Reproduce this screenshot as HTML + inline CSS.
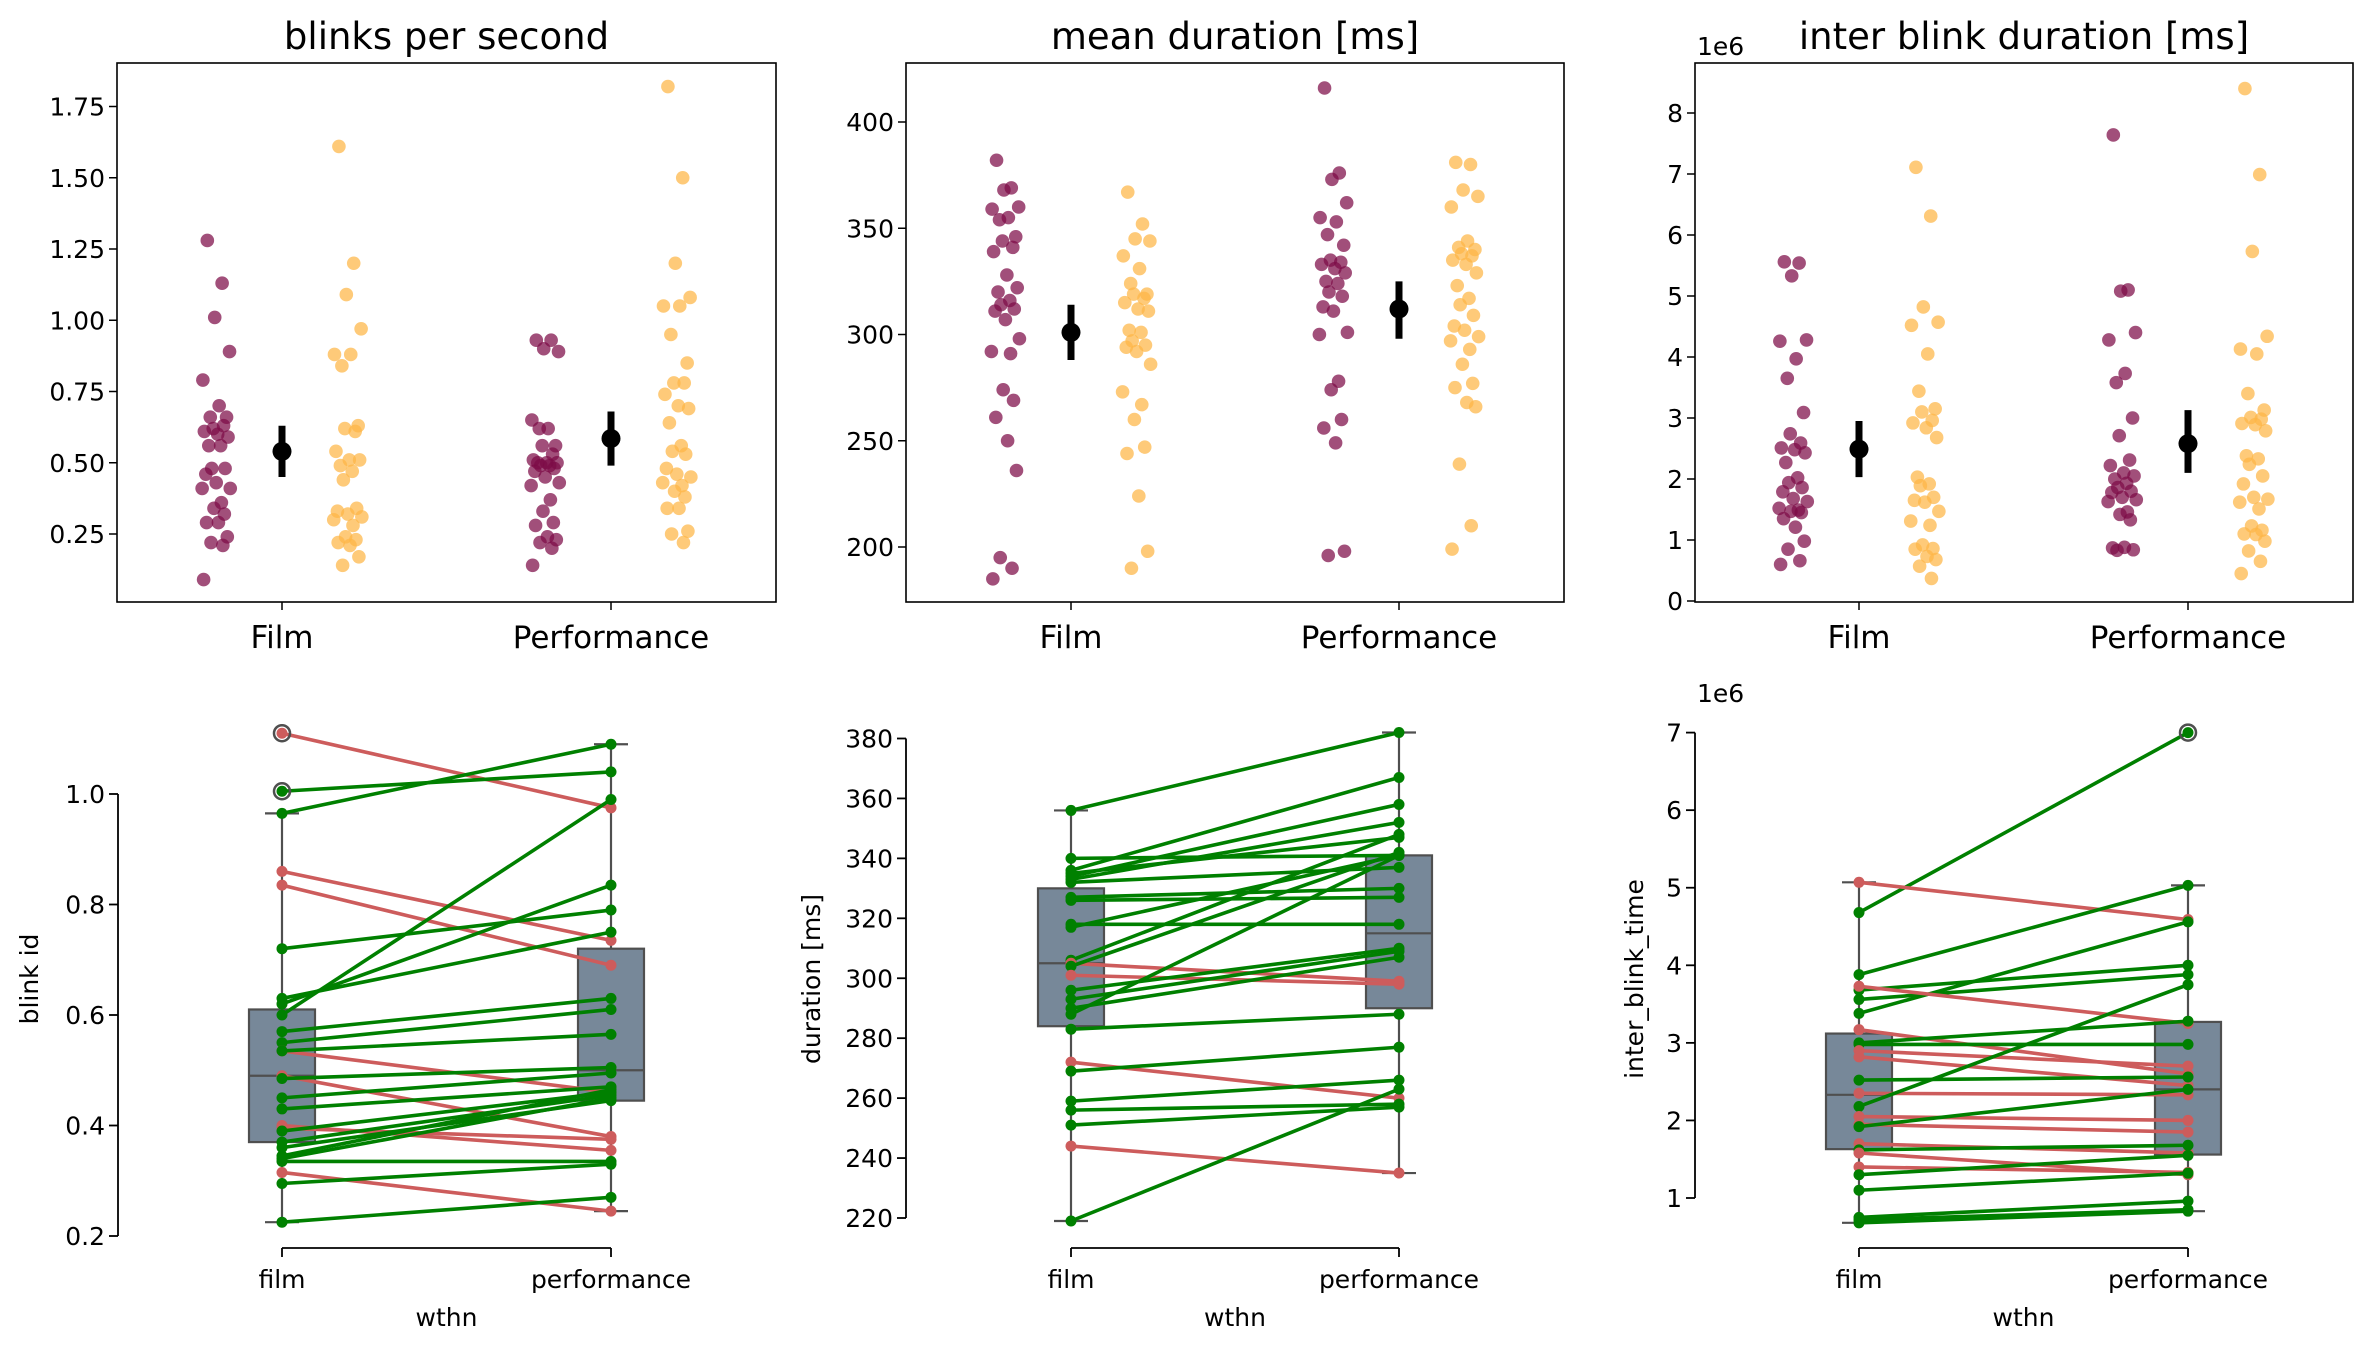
<!DOCTYPE html>
<html><head><meta charset="utf-8">
<style>
html,body{margin:0;padding:0;background:#fff;}
svg{display:block;font-family:"DejaVu Sans","Liberation Sans",sans-serif;}
</style></head>
<body>
<svg id="fig" width="2371" height="1350" viewBox="0 0 2371 1350" xmlns="http://www.w3.org/2000/svg"></svg>
<script>
// ---------- DATA ----------
const categoriesTop = ["Film","Performance"];
const categoriesBottom = ["film","performance"];

// Panel 1: blinks per second
const bpsFilmDark = [1.28,1.13,1.01,0.89,0.79,0.70,0.66,0.66,0.62,0.63,0.61,0.60,0.59,0.56,0.56,0.48,0.48,0.46,0.43,0.41,0.41,0.36,0.34,0.32,0.29,0.29,0.24,0.22,0.21,0.09];
const bpsFilmLight = [1.61,1.20,1.09,0.97,0.88,0.88,0.84,0.63,0.62,0.61,0.54,0.51,0.51,0.49,0.47,0.44,0.34,0.33,0.32,0.31,0.30,0.28,0.24,0.23,0.22,0.21,0.17,0.14];
const bpsPerfDark = [0.93,0.93,0.90,0.89,0.65,0.62,0.62,0.56,0.56,0.53,0.51,0.50,0.50,0.50,0.49,0.49,0.48,0.47,0.45,0.43,0.42,0.37,0.33,0.29,0.28,0.24,0.23,0.22,0.20,0.14];
const bpsPerfLight = [1.82,1.50,1.20,1.08,1.05,1.05,0.95,0.85,0.78,0.78,0.74,0.70,0.69,0.64,0.56,0.54,0.53,0.48,0.46,0.45,0.43,0.42,0.40,0.38,0.34,0.34,0.26,0.25,0.22];
const bpsMean = [0.54,0.585];
const bpsLo = [0.45,0.49];
const bpsHi = [0.63,0.68];
const bpsTicks = [0.25,0.50,0.75,1.00,1.25,1.50,1.75];

// Panel 2: mean duration
const durFilmDark = [382,369,368,360,359,355,354,346,344,341,339,328,322,320,316,314,312,311,307,298,292,291,274,269,261,250,236,195,190,185];
const durFilmLight = [367,352,345,344,337,331,324,319,319,317,315,312,311,302,301,297,295,294,292,286,273,267,260,247,244,224,198,190];
const durPerfDark = [416,376,373,362,355,353,347,342,335,334,333,331,329,325,324,320,318,313,311,301,300,278,274,260,256,249,198,196];
const durPerfLight = [381,380,368,365,360,344,341,340,338,337,335,333,329,323,317,314,309,304,302,299,297,293,286,277,275,268,266,239,210,199];
const durMean = [301,312];
const durLo = [288,298];
const durHi = [314,325];
const durTicks = [200,250,300,350,400];

// Panel 3: inter blink duration (x1e6)
const ibdFilmDark = [5.56,5.54,5.33,4.28,4.26,3.97,3.65,3.09,2.74,2.59,2.51,2.48,2.43,2.27,2.02,1.94,1.86,1.79,1.68,1.63,1.52,1.49,1.47,1.45,1.35,1.21,0.98,0.85,0.66,0.60];
const ibdFilmLight = [7.11,6.31,4.82,4.57,4.52,4.05,3.44,3.15,3.10,2.96,2.92,2.84,2.68,2.03,1.92,1.89,1.70,1.65,1.62,1.47,1.31,1.24,0.92,0.86,0.85,0.73,0.68,0.57,0.37];
const ibdPerfDark = [7.64,5.10,5.08,4.40,4.28,3.73,3.58,3.00,2.71,2.31,2.22,2.10,2.05,2.00,1.93,1.86,1.80,1.78,1.70,1.66,1.63,1.46,1.42,1.33,0.87,0.88,0.84,0.83];
const ibdPerfLight = [8.40,6.99,5.73,4.34,4.13,4.05,3.40,3.13,3.01,2.98,2.91,2.89,2.79,2.38,2.33,2.24,2.05,1.92,1.70,1.67,1.62,1.51,1.23,1.16,1.10,1.09,0.98,0.82,0.65,0.45];
const ibdMean = [2.49,2.58];
const ibdLo = [2.03,2.10];
const ibdHi = [2.95,3.13];
const ibdTicks = [0,1,2,3,4,5,6,7,8];

// jitter in category units (fraction of jitter width)
const jitter = [-0.6,0.4,-0.1,0.9,-0.9,0.2,-0.4,0.7,-0.2,0.5,-0.8,0.1,0.8,-0.5,0.3,-0.3,0.6,-0.7,0.0,0.95,-0.95,0.35,-0.15,0.55,-0.65,0.15,0.75,-0.35,0.45,-0.85];

// Bottom 1: blink id paired
const bidFilm = [1.11,1.005,0.965,0.86,0.835,0.72,0.63,0.62,0.60,0.57,0.55,0.535,0.535,0.49,0.485,0.45,0.43,0.40,0.395,0.39,0.37,0.36,0.345,0.34,0.335,0.315,0.295,0.225];
const bidPerf = [0.975,1.04,1.09,0.735,0.69,0.79,0.75,0.835,0.99,0.63,0.61,0.46,0.565,0.38,0.505,0.495,0.47,0.355,0.375,0.46,0.455,0.445,0.465,0.45,0.335,0.245,0.33,0.27];
const bidBox = [[0.225,0.37,0.49,0.61,0.965],[0.245,0.445,0.50,0.72,1.09]];
const bidOut = [[1.005,1.11],[]];
const bidTicks = [0.2,0.4,0.6,0.8,1.0];

// Bottom 2: duration paired
const pdFilm = [356,340,336,335,334,333,332,327,326,318,317,306,305,304,301,296,293,290,288,283,272,269,259,256,251,244,219];
const pdPerf = [382,341,367,347,358,352,337,330,327,318,341,348,299,342,298,310,309,307,341,288,260,277,266,258,257,235,263];
const pdBox = [[219,284,305,330,356],[235,290,315,341,382]];
const pdOut = [[],[]];
const pdTicks = [220,240,260,280,300,320,340,360,380];

// Bottom 3: inter blink time paired (x1e6)
const ibtFilm = [4.68,5.07,3.88,3.68,3.56,3.38,3.73,3.17,3.00,2.98,2.90,2.82,2.52,2.35,2.18,2.05,1.95,1.92,1.70,1.62,1.58,1.40,1.30,1.10,0.75,0.72,0.68];
const ibtPerf = [7.00,4.59,5.03,4.00,3.88,4.56,3.25,2.60,3.28,2.98,2.70,2.45,2.56,2.33,3.75,2.00,1.85,2.40,1.58,1.68,1.30,1.33,1.55,1.32,0.96,0.85,0.83];
const ibtBox = [[0.68,1.63,2.33,3.12,5.07],[0.83,1.56,2.40,3.27,5.03]];
const ibtOut = [[],[7.0]];
const ibtTicks = [1,2,3,4,5,6,7];

// ---------- DRAWING ----------
const NS = "http://www.w3.org/2000/svg";
const svg = document.getElementById('fig');
function el(tag, attrs, parent){
  const e = document.createElementNS(NS, tag);
  for (const k in attrs) e.setAttribute(k, attrs[k]);
  (parent||svg).appendChild(e);
  return e;
}
function linScale(v1,p1,v2,p2){ return v => p1 + (v - v1) * (p2 - p1) / (v2 - v1); }
function fmt(v, dec){ return v.toFixed(dec); }

const DARK = '#7d0b47', LIGHT = '#feb645';

function topPanel(cfg){
  const g = el('g', {});
  
  
  const y = linScale(cfg.tv1, cfg.tp1, cfg.tv2, cfg.tp2);
  const x = linScale(0, cfg.x0, 1, cfg.x1);
  const t = el('text', {x:(cfg.left+cfg.right)/2, y:49, 'font-size':37, 'text-anchor':'middle', fill:'#000'}, g);
  t.textContent = cfg.title;
  
  
  const groups = [[cfg.d[0],0,-0.2,DARK],[cfg.d[1],0,0.2,LIGHT],[cfg.d[2],1,-0.2,DARK],[cfg.d[3],1,0.2,LIGHT]];
  groups.forEach(([arr,ci,off,col])=>{
    arr.forEach((v,i)=>{
      const c = el('circle', {cx: x(ci + off + 0.045*jitter[i % jitter.length]), cy: y(v), r:6.8, fill:col, 'fill-opacity':0.72}, g);
      
      
    });
  });
  for (let ci=0; ci<2; ci++){
    const l = el('line', {x1:x(ci), x2:x(ci), y1:y(cfg.lo[ci]), y2:y(cfg.hi[ci]), stroke:'#000', 'stroke-width':7}, g);
    
    
    const m = el('circle', {cx:x(ci), cy:y(cfg.mean[ci]), r:9.5, fill:'#000'}, g);
    
    
  }
  const fr = el('rect', {x:cfg.left, y:63, width:cfg.right-cfg.left, height:602-63, fill:'none', stroke:'#000', 'stroke-width':1.6}, g);
  
  
  cfg.ticks.forEach(v=>{
    const py = y(v);
    el('line', {x1:cfg.left-8, x2:cfg.left, y1:py, y2:py, stroke:'#000', 'stroke-width':1.5}, g);
    const tt = el('text', {x:cfg.left-12, y:py+9, 'font-size':25, 'text-anchor':'end'}, g);
    tt.textContent = fmt(v, cfg.dec);
    
    
  });
  categoriesTop.forEach((c,ci)=>{
    el('line', {x1:x(ci), x2:x(ci), y1:602, y2:610, stroke:'#000', 'stroke-width':1.5}, g);
    const tt = el('text', {x:x(ci), y:648, 'font-size':31, 'text-anchor':'middle'}, g);
    tt.textContent = c;
    
    
  });
  if (cfg.offset){
    const o = el('text', {x:cfg.left+2, y:55, 'font-size':25}, g);
    o.textContent = cfg.offset;
    
    
  }
}

function bottomPanel(cfg){
  const g = el('g', {});
  
  
  const y = linScale(cfg.tv1, cfg.tp1, cfg.tv2, cfg.tp2);
  const x = linScale(0, cfg.x0, 1, cfg.x1);
  const EDGE = '#4f4f4f';
  cfg.box.forEach((b,ci)=>{
    const cx = x(ci);
    el('line', {x1:cx, x2:cx, y1:y(b[0]), y2:y(b[1]), stroke:EDGE, 'stroke-width':2.2}, g);
    el('line', {x1:cx, x2:cx, y1:y(b[3]), y2:y(b[4]), stroke:EDGE, 'stroke-width':2.2}, g);
    el('line', {x1:cx-17, x2:cx+17, y1:y(b[0]), y2:y(b[0]), stroke:EDGE, 'stroke-width':2.2}, g);
    el('line', {x1:cx-17, x2:cx+17, y1:y(b[4]), y2:y(b[4]), stroke:EDGE, 'stroke-width':2.2}, g);
    const r = el('rect', {x:cx-33, y:y(b[3]), width:66, height:y(b[1])-y(b[3]), fill:'#778899', stroke:EDGE, 'stroke-width':2.2}, g);
    
    
    el('line', {x1:cx-33, x2:cx+33, y1:y(b[2]), y2:y(b[2]), stroke:EDGE, 'stroke-width':2.2}, g);
  });
  cfg.a.forEach((va,i)=>{
    const vb = cfg.b[i];
    const col = vb >= va ? '#008000' : '#cd5c5c';
    const l = el('line', {x1:x(0), y1:y(va), x2:x(1), y2:y(vb), stroke:col, 'stroke-width':3.6}, g);
    
    
    const c1 = el('circle', {cx:x(0), cy:y(va), r:5.5, fill:col}, g);
    
    
    const c2 = el('circle', {cx:x(1), cy:y(vb), r:5.5, fill:col}, g);
    
    
  });
  cfg.out.forEach((arr,ci)=>{
    arr.forEach(v=>{
      const o = el('circle', {cx:x(ci), cy:y(v), r:8, fill:'none', stroke:EDGE, 'stroke-width':2.5}, g);
      
      
    });
  });
  const tmin = cfg.ticks[0], tmax = cfg.ticks[cfg.ticks.length-1];
  el('line', {x1:cfg.spineX, x2:cfg.spineX, y1:y(tmin), y2:y(tmax), stroke:'#000', 'stroke-width':1.8}, g);
  cfg.ticks.forEach(v=>{
    const py = y(v);
    el('line', {x1:cfg.spineX-9, x2:cfg.spineX, y1:py, y2:py, stroke:'#000', 'stroke-width':1.8}, g);
    const tt = el('text', {x:cfg.spineX-13, y:py+9, 'font-size':25, 'text-anchor':'end'}, g);
    tt.textContent = fmt(v, cfg.dec);
    
    
  });
  el('line', {x1:x(0), x2:x(1), y1:1248, y2:1248, stroke:'#000', 'stroke-width':1.8}, g);
  categoriesBottom.forEach((c,ci)=>{
    el('line', {x1:x(ci), x2:x(ci), y1:1248, y2:1257, stroke:'#000', 'stroke-width':1.8}, g);
    const tt = el('text', {x:x(ci), y:1288, 'font-size':25, 'text-anchor':'middle'}, g);
    tt.textContent = c;
    
    
  });
  const xl = el('text', {x:(x(0)+x(1))/2, y:1326, 'font-size':25, 'text-anchor':'middle'}, g);
  xl.textContent = 'wthn';
  
  
  const yl = el('text', {x:0, y:0, 'font-size':25, 'text-anchor':'middle', transform:`translate(${cfg.ylabelX},979) rotate(-90)`}, g);
  yl.textContent = cfg.ylabel;
  
  
  if (cfg.offset){
    const o = el('text', {x:cfg.spineX+2, y:702, 'font-size':25}, g);
    o.textContent = cfg.offset;
    
    
  }
}

topPanel({name:'blinks-per-second-panel', title:'blinks per second', left:117, right:776, x0:282, x1:611,
  tv1:1.75, tp1:106.5, tv2:0.25, tp2:534, ticks:bpsTicks, dec:2,
  d:[bpsFilmDark,bpsFilmLight,bpsPerfDark,bpsPerfLight], mean:bpsMean, lo:bpsLo, hi:bpsHi});
topPanel({name:'mean-duration-panel', title:'mean duration [ms]', left:906, right:1564, x0:1071, x1:1399,
  tv1:400, tp1:122, tv2:200, tp2:547, ticks:durTicks, dec:0,
  d:[durFilmDark,durFilmLight,durPerfDark,durPerfLight], mean:durMean, lo:durLo, hi:durHi});
topPanel({name:'inter-blink-duration-panel', title:'inter blink duration [ms]', left:1695, right:2353, x0:1859, x1:2188,
  tv1:8, tp1:113, tv2:0, tp2:601, ticks:ibdTicks, dec:0, offset:'1e6',
  d:[ibdFilmDark,ibdFilmLight,ibdPerfDark,ibdPerfLight], mean:ibdMean, lo:ibdLo, hi:ibdHi});

bottomPanel({name:'blink-id-paired-panel', spineX:118, x0:282, x1:611, tv1:1.0, tp1:794, tv2:0.2, tp2:1236,
  ticks:bidTicks, dec:1, a:bidFilm, b:bidPerf, box:bidBox, out:bidOut, ylabel:'blink id', ylabelX:38});
bottomPanel({name:'duration-paired-panel', spineX:906, x0:1071, x1:1399, tv1:380, tp1:738.5, tv2:220, tp2:1218,
  ticks:pdTicks, dec:0, a:pdFilm, b:pdPerf, box:pdBox, out:pdOut, ylabel:'duration [ms]', ylabelX:820});
bottomPanel({name:'inter-blink-time-paired-panel', spineX:1695, x0:1859, x1:2188, tv1:7, tp1:732.6, tv2:1, tp2:1198,
  ticks:ibtTicks, dec:0, a:ibtFilm, b:ibtPerf, box:ibtBox, out:ibtOut, ylabel:'inter_blink_time', ylabelX:1643, offset:'1e6'});
</script>
</body></html>
